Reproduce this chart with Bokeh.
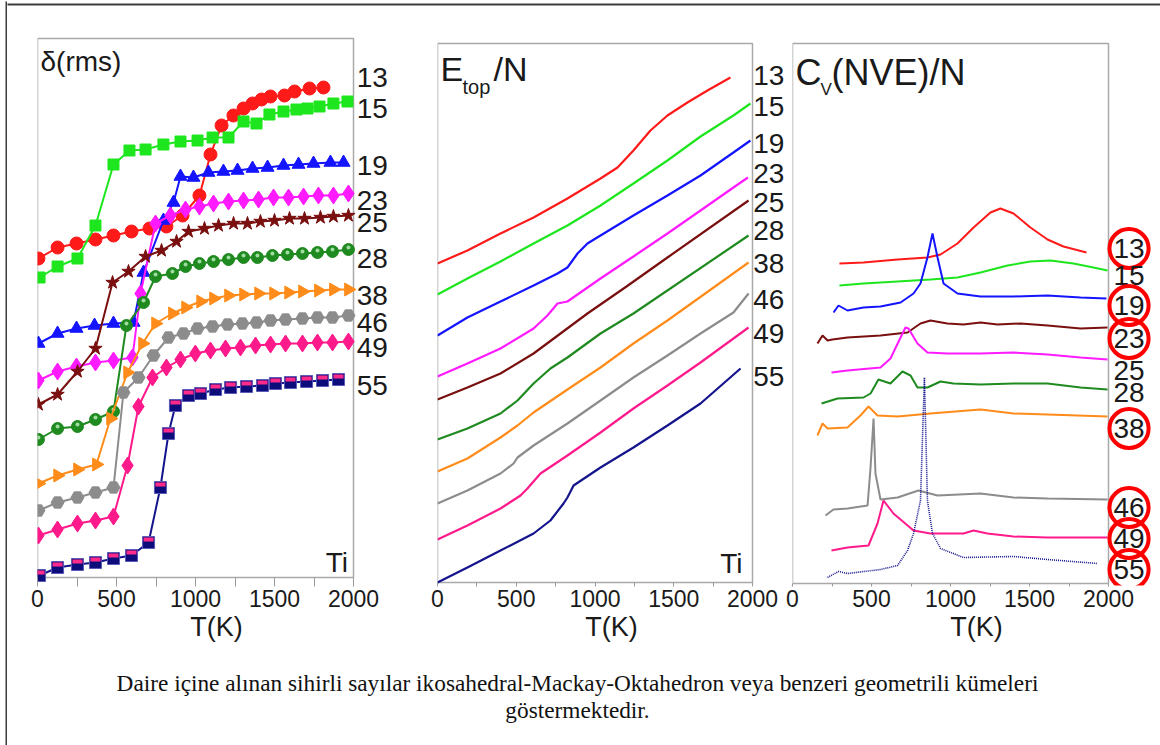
import numpy as np
from bokeh.plotting import figure
from bokeh.layouts import row, column
from bokeh.models import Label, LabelSet, ColumnDataSource, FixedTicker, Range1d
from bokeh.embed import file_html
from bokeh.resources import INLINE
from bokeh.core.properties import value

# ---------------- data ----------------
sizes = ["13", "15", "19", "23", "25", "28", "38", "46", "49", "55"]
colors = ["#ff1a1a", "#1ee61e", "#1414ff", "#ff1aff", "#7a0f0f",
          "#1f8a1f", "#ff8c1a", "#8c8c8c", "#ff1a8c", "#14148c"]
# panel 3 uses brown for 23 and magenta for 25
colors_cv = ["#ff1a1a", "#1ee61e", "#1414ff", "#7a0f0f", "#ff1aff",
             "#1f8a1f", "#ff8c1a", "#8c8c8c", "#ff1a8c", "#14148c"]

# Panel 1: delta(rms) vs T (vertically offset, arbitrary units)
d_T = {
    "13": [6, 127, 247, 367, 481, 595, 709, 816, 918, 1025, 1095, 1165, 1240, 1304, 1361, 1418, 1475, 1563, 1627, 1722, 1810],
    "15": [13, 127, 253, 367, 481, 582, 684, 797, 905, 1013, 1108, 1209, 1304, 1386, 1468, 1557, 1639, 1709, 1785, 1873, 1962],
    "19": [6, 127, 247, 361, 481, 608, 671, 797, 861, 905, 987, 1082, 1177, 1266, 1361, 1456, 1557, 1652, 1747, 1854, 1937],
    "23": [6, 127, 247, 367, 481, 601, 652, 747, 842, 937, 1025, 1114, 1209, 1304, 1399, 1494, 1589, 1684, 1778, 1873, 1968],
    "25": [6, 127, 253, 367, 475, 576, 684, 785, 880, 956, 1057, 1146, 1241, 1329, 1411, 1500, 1595, 1690, 1791, 1873, 1968],
    "28": [6, 127, 253, 367, 481, 563, 671, 747, 854, 937, 1025, 1114, 1209, 1304, 1392, 1487, 1582, 1677, 1772, 1867, 1968],
    "38": [6, 127, 253, 373, 462, 570, 665, 747, 854, 937, 1032, 1114, 1209, 1304, 1399, 1494, 1589, 1677, 1778, 1873, 1968],
    "46": [6, 127, 253, 367, 481, 544, 639, 734, 829, 924, 1013, 1108, 1203, 1297, 1386, 1475, 1570, 1677, 1772, 1867, 1968],
    "49": [6, 127, 253, 367, 481, 570, 639, 728, 816, 905, 999, 1095, 1190, 1285, 1380, 1475, 1570, 1677, 1772, 1867, 1968],
    "55": [13, 127, 253, 367, 481, 595, 703, 778, 829, 873, 956, 1032, 1127, 1222, 1323, 1424, 1506, 1601, 1703, 1804, 1905],
}
d_Y = {
    "13": [319, 330, 334, 338, 342, 346, 349, 351, 362, 382, 423, 452, 462, 469, 474, 478, 481, 482, 486, 489, 490],
    "15": [300, 311, 319, 352, 413, 427, 428, 433, 436, 437, 440, 440, 456, 454, 463, 466, 468, 469, 471, 474, 476],
    "19": [234, 244, 249, 252, 254, 255, 305, 357, 375, 401, 400, 405, 406, 407, 409, 410, 412, 413, 414, 415, 415],
    "23": [197, 206, 211, 215, 217, 220, 284, 354, 362, 368, 371, 374, 376, 377, 378, 380, 380, 381, 382, 382, 384],
    "25": [173, 183, 206, 229, 295, 306, 321, 327, 336, 346, 349, 352, 354, 354, 356, 357, 359, 359, 360, 361, 362],
    "28": [138, 149, 151, 158, 166, 252, 275, 301, 304, 311, 314, 316, 318, 320, 320, 322, 323, 324, 325, 326, 328],
    "38": [94, 102, 108, 113, 159, 205, 234, 254, 264, 270, 276, 279, 282, 283, 284, 284, 285, 286, 287, 288, 288],
    "46": [67, 75, 80, 85, 90, 185, 200, 222, 240, 244, 249, 251, 253, 254, 255, 257, 258, 259, 260, 260, 262],
    "49": [42, 48, 54, 57, 61, 112, 171, 200, 210, 218, 224, 227, 229, 230, 232, 233, 234, 234, 235, 235, 236],
    "55": [2, 10, 13, 15, 19, 22, 35, 90, 144, 172, 182, 184, 188, 190, 191, 192, 194, 195, 196, 197, 198],
}
d_labelY = [500, 469, 412, 377, 355, 319, 282, 255, 230, 192]

# Panel 2: E_top/N vs T (offset)
e_T = {
    "13": [0, 190, 400, 610, 825, 1035, 1143, 1244, 1352, 1460, 1587, 1714, 1860],
    "15": [0, 190, 400, 610, 825, 1035, 1244, 1460, 1670, 1879, 1987],
    "19": [0, 190, 400, 610, 762, 825, 889, 952, 1035, 1244, 1460, 1670, 1879, 1987],
    "23": [0, 190, 400, 610, 698, 762, 825, 1035, 1244, 1460, 1670, 1879, 1971],
    "25": [0, 190, 400, 610, 781, 952, 1200, 1460, 1975],
    "28": [0, 190, 400, 508, 610, 717, 825, 1035, 1244, 1975],
    "38": [0, 190, 400, 508, 610, 825, 1035, 1244, 1460, 1975],
    "46": [0, 190, 400, 483, 508, 610, 825, 1035, 1244, 1460, 1670, 1879, 1975],
    "49": [0, 190, 400, 527, 571, 654, 825, 1035, 1244, 1460, 1670, 1975],
    "55": [0, 190, 400, 610, 717, 800, 825, 864, 1035, 1244, 1460, 1670, 1924],
}
e_Y = {
    "13": [319, 332, 349, 365, 384, 404, 415, 432, 452, 467, 480, 492, 505],
    "15": [288, 304, 321, 339, 357, 377, 399, 422, 446, 467, 479],
    "19": [247, 265, 281, 297, 309, 315, 329, 339, 347, 367, 387, 407, 430, 442],
    "23": [206, 219, 234, 254, 267, 279, 281, 304, 326, 349, 372, 395, 405],
    "25": [183, 195, 209, 229, 249, 269, 296, 325, 382],
    "28": [143, 154, 169, 182, 199, 214, 225, 249, 269, 347],
    "38": [111, 124, 145, 157, 170, 193, 215, 239, 262, 320],
    "46": [79, 92, 109, 119, 125, 137, 159, 182, 205, 227, 249, 270, 289],
    "49": [43, 57, 74, 87, 94, 109, 127, 150, 174, 197, 220, 255],
    "55": [0, 15, 32, 49, 62, 79, 85, 97, 115, 135, 157, 179, 214],
}
e_labelY = [507, 476, 439, 409, 380, 352, 319, 283, 249, 206]

# Panel 3: Cv(NVE)/N vs T (offset)
c_T = {
    "13": [297, 449, 665, 854, 937, 1044, 1146, 1253, 1316, 1399, 1506, 1614, 1715, 1861],
    "15": [297, 449, 665, 873, 1044, 1190, 1361, 1506, 1633, 1778, 1905, 1994],
    "19": [260, 291, 348, 449, 557, 684, 766, 810, 854, 886, 918, 956, 1044, 1190, 1399, 1614, 1823, 1987],
    "23": [158, 190, 222, 253, 348, 557, 728, 810, 873, 980, 1082, 1190, 1297, 1443, 1614, 1823, 1994],
    "25": [247, 348, 557, 620, 684, 715, 734, 791, 854, 980, 1190, 1399, 1614, 1823, 1994],
    "28": [184, 285, 449, 494, 544, 620, 696, 747, 791, 854, 937, 1019, 1190, 1399, 1614, 1823, 1994],
    "38": [158, 190, 222, 348, 430, 481, 538, 665, 873, 1190, 1399, 1614, 1994],
    "46": [209, 259, 348, 475, 494, 513, 525, 557, 665, 797, 918, 1190, 1399, 1614, 1994],
    "49": [247, 348, 481, 538, 576, 639, 766, 873, 1082, 1146, 1234, 1399, 1614, 1994],
    "55": [222, 291, 348, 557, 665, 728, 766, 810, 835, 854, 886, 937, 1082, 1399, 1614, 1930],
}
c_Y = {
    "13": [320, 321, 324, 326, 329, 340, 356, 371, 375, 370, 356, 344, 337, 331],
    "15": [298, 300, 302, 304, 306, 311, 318, 322, 323, 320, 316, 313],
    "19": [271, 278, 273, 276, 277, 281, 290, 300, 326, 350, 326, 300, 290, 287, 287, 288, 286, 285],
    "23": [240, 248, 243, 244, 246, 248, 251, 260, 263, 260, 259, 261, 259, 260, 258, 255, 256],
    "25": [211, 213, 216, 225, 246, 256, 255, 240, 231, 230, 230, 231, 229, 226, 224],
    "28": [180, 185, 186, 190, 204, 200, 212, 208, 196, 196, 202, 200, 199, 200, 200, 196, 194],
    "38": [148, 160, 155, 156, 168, 177, 168, 167, 170, 174, 170, 169, 167],
    "46": [68, 74, 75, 78, 116, 165, 110, 84, 86, 93, 88, 90, 86, 85, 84],
    "49": [33, 36, 38, 60, 83, 70, 53, 50, 50, 53, 50, 47, 46, 46],
    "55": [6, 12, 10, 14, 18, 33, 50, 83, 206, 83, 50, 35, 26, 27, 24, 20],
}
c_labelY = [335, 308, 278, 245, 213, 191, 155, 76, 45, 14]
c_circled = [True, False, True, True, False, False, True, True, True, True]

x_ticks = [0, 500, 1000, 1500, 2000]
x_minor = [250, 750, 1250, 1750]
caption = ["Daire içine alınan sihirli sayılar ikosahedral-Mackay-Oktahedron veya benzeri geometrili kümeleri",
           "göstermektedir."]

SANS = "Liberation Sans"
TXT = "#1a1a1a"
BOX = "#a9a9a9"
PANEL_H = 646
TOP_STRIP_H = 10
FRAME_TOP = 36      # page y of every panel frame top
FRAME_BOTTOM = 585  # page y of every panel frame bottom (axis line position)


def style_axis(ax, tick_in):
    ax.ticker = FixedTicker(ticks=x_ticks, minor_ticks=x_minor)
    ax.axis_line_color = None
    ax.major_tick_line_color = "#9a9a9a"
    ax.minor_tick_line_color = "#9a9a9a"
    ax.major_tick_in = tick_in
    ax.major_tick_out = 1
    ax.minor_tick_in = tick_in
    ax.minor_tick_out = 1
    ax.major_label_standoff = 3
    ax.major_label_text_font = SANS
    ax.major_label_text_font_size = "23px"
    ax.major_label_text_color = TXT
    ax.axis_label = "T(K)"
    ax.axis_label_text_font = SANS
    ax.axis_label_text_font_size = "27px"
    ax.axis_label_text_font_style = "normal"
    ax.axis_label_text_color = TXT
    ax.axis_label_standoff = 2


def make_panel(fig_w, mb_left, box_px, box_top_px, box_bottom_px, box_units):
    # frame geometry identical for all panels; the visible box is placed through the y range
    frame_h = FRAME_BOTTOM - FRAME_TOP
    upp = box_units / (box_bottom_px - box_top_px)          # data units per pixel
    y_lo = -(FRAME_BOTTOM - box_bottom_px) * upp
    y_hi = box_units + (box_top_px - FRAME_TOP) * upp
    x_end = x_ticks[-1] * (fig_w - mb_left) / box_px
    mb_top = FRAME_TOP - TOP_STRIP_H
    p = figure(width=fig_w, height=PANEL_H, title=None,
               x_range=Range1d(0, x_end), y_range=Range1d(y_lo, y_hi),
               y_axis_type=None, toolbar_location=None, output_backend="svg",
               min_border_left=mb_left, min_border_right=0,
               min_border_top=mb_top, min_border_bottom=PANEL_H - mb_top - frame_h,
               outline_line_color=None)
    style_axis(p.xaxis[0], FRAME_BOTTOM - box_bottom_px)
    p.grid.visible = False
    p.quad(left=x_ticks[0], right=x_ticks[-1], bottom=0, top=box_units,
           fill_color=None, line_color=BOX, line_width=1.5)
    return p


def txt(p, x, y, text, size, align="left"):
    p.add_layout(Label(x=x, y=y, text=text, text_font=SANS, text_font_size=size,
                       text_color=TXT, text_align=align, text_baseline="middle"))


# ---------------- panel 1 ----------------
p1 = make_panel(388, 30, 316, 38, 577, 539)
marker_spec = {
    "13": ("circle", 13, 0.0),
    "15": ("square", 11, 0.0),
    "19": ("triangle", 13, 0.0),
    "23": ("diamond", 17, 0.0),
    "25": ("star", 14, 0.0),
    "28": ("circle", 12, 0.0),
    "38": ("triangle", 13, -np.pi / 2),
    "46": ("hex", 13, 0.0),
    "49": ("diamond", 17, 0.0),
}
for k, c in zip(sizes, colors):
    p1.line(d_T[k], d_Y[k], line_color=c, line_width=2)
    if k == "55":
        p1.rect(d_T[k], d_Y[k], width=12, height=12, width_units="screen", height_units="screen",
                fill_color="#0c0c7a", line_color="#5a5ab8", line_width=1)
        p1.rect(d_T[k], [v + 3 for v in d_Y[k]], width=10, height=4, width_units="screen",
                height_units="screen", fill_color="#ff2a8a", line_color=None)
    else:
        m, s, a = marker_spec[k]
        p1.scatter(d_T[k], d_Y[k], marker=m, size=s, angle=a, fill_color=c, line_color=c)
        if k == "28":
            p1.scatter(d_T[k], [v + 2 for v in d_Y[k]], marker="circle", size=4,
                       fill_color="#9fdc9f", line_color=None)
src1 = ColumnDataSource(dict(x=[2020] * len(sizes), y=d_labelY, t=sizes))
p1.add_layout(LabelSet(x="x", y="y", text="t", source=src1, text_font=value(SANS),
                       text_font_size="28px", text_color=TXT, text_baseline="middle"))
txt(p1, 19, 516, "δ(rms)", "28px")
txt(p1, 1965, 15, "Ti", "28px", align="right")

# ---------------- panel 2 ----------------
p2 = make_panel(390, 42, 315, 43, 582, 539)
for k, c in zip(sizes, colors):
    p2.line(e_T[k], e_Y[k], line_color=c, line_width=2.2)
src2 = ColumnDataSource(dict(x=[2005] * len(sizes), y=e_labelY, t=sizes))
p2.add_layout(LabelSet(x="x", y="y", text="t", source=src2, text_font=value(SANS),
                       text_font_size="28px", text_color=TXT, text_baseline="middle"))
txt(p2, 19, 514, "E", "34px")
txt(p2, 159, 496, "top", "20px")
txt(p2, 356, 514, "/N", "34px")
txt(p2, 1937, 19, "Ti", "28px", align="right")

# ---------------- panel 3 ----------------
p3 = make_panel(375, 7, 316, 43, 583, 540)
for k, c in zip(sizes, colors_cv):
    if k == "55":
        p3.line(c_T[k], c_Y[k], line_color=c, line_width=1.6, line_dash="1 1")
    else:
        p3.line(c_T[k], c_Y[k], line_color=c, line_width=2)
for t, yv, circ in zip(sizes, c_labelY, c_circled):
    if circ:
        p3.add_layout(Label(x=2130, y=yv, text=t, text_font=SANS, text_font_size="28px",
                            text_color=TXT, text_align="center", text_baseline="middle",
                            border_line_color="#ff0000", border_line_width=4,
                            border_radius=21, padding=(4, 10)))
    else:
        p3.add_layout(Label(x=2130, y=yv, text=t, text_font=SANS, text_font_size="28px",
                            text_color=TXT, text_align="center", text_baseline="middle"))
txt(p3, 19, 511, "C", "36px")
txt(p3, 177, 494, "V", "17px")
txt(p3, 247, 511, "(NVE)/N", "36px")

# ---------------- caption ----------------
CAP_H = 745 - TOP_STRIP_H - PANEL_H
pc = figure(width=1153, height=CAP_H, title=None, x_range=Range1d(0, 1153), y_range=Range1d(0, CAP_H),
            x_axis_type=None, y_axis_type=None, toolbar_location=None, output_backend="svg",
            min_border=0, outline_line_color=None)
pc.grid.visible = False
for line_text, yb in zip(caption, [62.5, 35.5]):
    pc.add_layout(Label(x=570, y=yb, text=line_text, text_font="Liberation Serif",
                        text_font_size="23.3px", text_color="#111111", text_align="center",
                        text_baseline="middle"))

# ---------------- border strips ----------------
left_strip = figure(width=7, height=745, title=None, x_axis_type=None, y_axis_type=None,
                    toolbar_location=None, output_backend="svg", min_border_left=5,
                    min_border_right=0, min_border_top=1, min_border_bottom=0,
                    background_fill_color="#3c3c3c", outline_line_color=None)
top_strip = figure(width=1153, height=TOP_STRIP_H, title=None, x_axis_type=None, y_axis_type=None,
                   toolbar_location=None, output_backend="svg", min_border_left=0,
                   min_border_right=0, min_border_top=1, min_border_bottom=TOP_STRIP_H - 3,
                   background_fill_color="#3c3c3c", outline_line_color=None)

layout = row(left_strip, column(top_strip, row(p1, p2, p3), pc))
open("out.html", "w").write(file_html(layout, INLINE))
